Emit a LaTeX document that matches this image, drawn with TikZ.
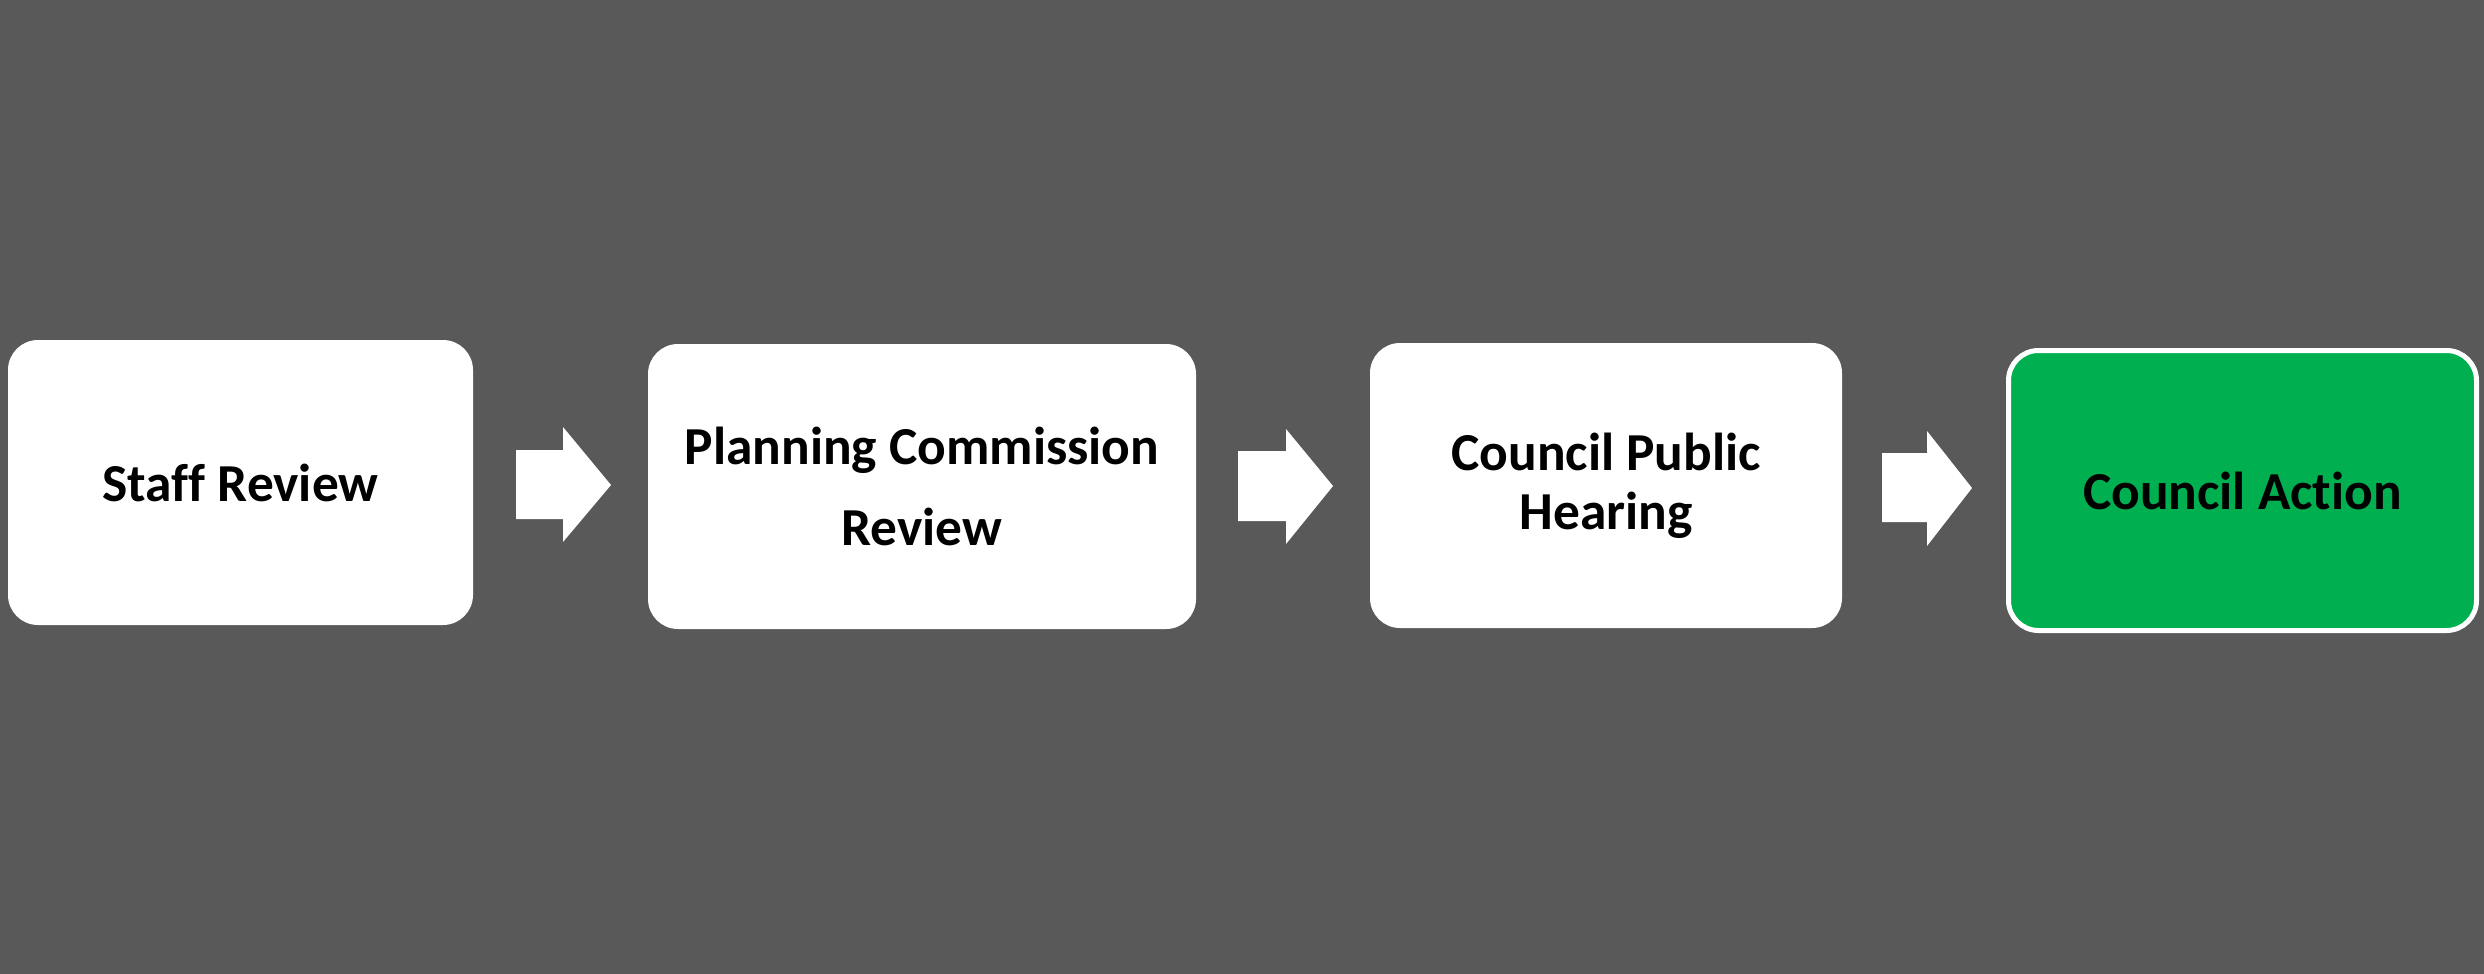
\documentclass[tikz,border=0pt]{standalone}
\usepackage{fontspec}
\setmainfont{Carlito}[Ligatures={NoCommon}]
\definecolor{bgcol}{HTML}{595959}
\definecolor{actgreen}{HTML}{00B050}
\begin{document}
\begin{tikzpicture}[x=0.5pt,y=-0.5pt,
  box/.style={fill=white, draw=none, rounded corners=15pt, inner sep=0pt, align=center,
    font=\bfseries\fontsize{26.7}{32}\selectfont, text=black},
  blockarrow/.style={fill=white, draw=none}]
\fill[bgcol] (0,0) rectangle (2484,974);
\useasboundingbox (0,0) rectangle (2484,974);
% steps
\node[box, minimum width=232.5pt, minimum height=142.5pt] (s1) at (240.5,482.5) {Staff Review};
\node[box, minimum width=274pt, minimum height=142.5pt,
  font=\bfseries\fontsize{26.7}{40.5}\selectfont] (s2) at (922,486.5) {Planning Commission\\Review};
\node[box, minimum width=236pt, minimum height=142.5pt,
  font=\bfseries\fontsize{26.7}{29.5}\selectfont] (s3) at (1606,485.5) {Council Public\\Hearing};
\node[box, fill=actgreen, draw=white, line width=2.5pt, minimum width=234pt, minimum height=140pt]
  (s4) at (2242.5,490.5) {Council Action};
% block arrows
\fill[blockarrow] (516,450) -- (563,450) -- (563,427) -- (611,485) -- (563,542) -- (563,519) -- (516,519) -- cycle;
\fill[blockarrow] (1238,451) -- (1286,451) -- (1286,429) -- (1333,486) -- (1286,544) -- (1286,521) -- (1238,521) -- cycle;
\fill[blockarrow] (1882,453) -- (1927,453) -- (1927,431) -- (1972,488) -- (1927,546) -- (1927,522) -- (1882,522) -- cycle;
\end{tikzpicture}
\end{document}
